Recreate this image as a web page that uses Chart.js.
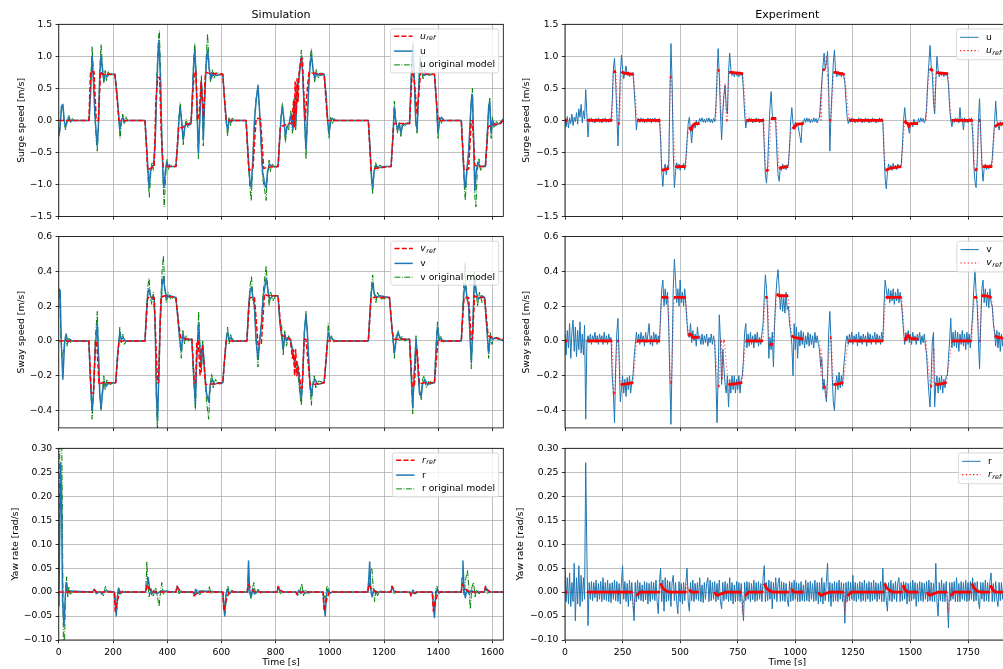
<!DOCTYPE html>
<html>
<head>
<meta charset="utf-8">
<script src="https://cdn.jsdelivr.net/npm/chart.js@4.4.1/dist/chart.umd.min.js"></script>
<style>
  html, body { margin: 0; padding: 0; background: #fff; width: 1003px; height: 669px; overflow: hidden; }
  canvas { position: absolute; left: 0; top: 0; }
</style>
</head>
<body>
<script>
// ---------- tick labels ----------
const simTimeTicks = [0, 200, 400, 600, 800, 1000, 1200, 1400, 1600];
const expTimeTicks = [0, 250, 500, 750, 1000, 1250, 1500, 1750];
const surgeTicks = [-1.5, -1.0, -0.5, 0, 0.5, 1.0, 1.5];
const swayTicks = [-0.4, -0.2, 0, 0.2, 0.4, 0.6];
const yawTicks = [-0.10, -0.05, 0, 0.05, 0.10, 0.15, 0.20, 0.25, 0.30];

// ---------- simulation: [time s, value] ----------
const uRefSim = [[0,0],[111,0],[117,.76],[130,.76],[138,0],[146,0],[154,.76],[160,.72],[207,.72],[222,0],[318,0],[328,-.78],[338,-.75],[352,-.72],[358,.3],[365,.67],[372,.67],[378,-.2],[385,-.72],[432,-.72],[442,-.1],[455,-.12],[470,-.06],[488,-.05],[491,.2],[500,.76],[506,.76],[512,0],[518,.1],[525,.6],[530,.3],[534,.05],[541,.75],[550,.74],[605,.72],[617,0],[691,0],[701,-.78],[716,-.76],[728,.03],[744,.03],[756,-.75],[770,-.73],[809,-.72],[817,-.1],[830,-.08],[845,-.05],[860,-.05],[866,.3],[869,-.1],[872,.6],[876,.1],[879,.65],[883,.3],[886,.7],[893,.95],[899,.97],[903,.5],[909,0],[915,.4],[923,.75],[935,.74],[979,.72],[991,0],[1142,0],[1152,-.78],[1165,-.75],[1226,-.72],[1236,-.05],[1260,-.05],[1294,-.05],[1304,.78],[1312,.6],[1322,.1],[1335,.75],[1345,.73],[1386,.72],[1399,0],[1485,0],[1495,-.78],[1512,-.76],[1522,0],[1526,0],[1535,-.7],[1545,-.72],[1574,-.72],[1584,-.1],[1600,-.07],[1630,-.05],[1640,0]];
const uSim = [[0,-.25],[4,-.15],[10,.22],[15,.25],[20,0],[25,-.1],[31,-.02],[37,.05],[44,-.02],[52,0],[112,0],[118,.5],[123,1.0],[128,.6],[133,.1],[138,-.2],[142,-.4],[147,0],[151,.7],[156,1.02],[161,.8],[166,.62],[172,.72],[178,.68],[186,.72],[207,.72],[215,.4],[222,.02],[225,-.15],[230,-.02],[236,.05],[243,-.02],[250,0],[318,0],[324,-.4],[330,-.85],[333,-1.05],[338,-.8],[344,-.72],[350,-.7],[356,-.3],[362,.6],[367,1.1],[370,1.25],[375,.6],[380,-.3],[385,-.9],[388,-1.05],[393,-.8],[398,-.65],[404,-.72],[432,-.72],[438,-.4],[444,.05],[448,.2],[453,0],[459,-.3],[465,-.1],[471,-.05],[478,-.08],[488,-.05],[493,.4],[498,.9],[502,1.1],[507,.6],[511,0],[515,-.5],[520,0],[526,.6],[530,.3],[533,-.3],[538,.3],[544,.9],[549,1.1],[555,.8],[562,.65],[570,.74],[580,.7],[605,.72],[612,.3],[619,-.05],[623,-.15],[629,.02],[636,-.02],[645,0],[691,0],[698,-.5],[705,-.95],[710,-1.05],[716,-.6],[722,0],[728,.3],[735,.55],[740,.2],[746,-.3],[752,-.8],[760,-1.0],[765,-1.05],[770,-.8],[777,-.68],[786,-.72],[809,-.72],[815,-.3],[820,.05],[825,.2],[830,.05],[836,-.25],[842,-.1],[850,-.05],[858,.1],[864,-.15],[870,.3],[874,-.1],[880,.5],[886,.65],[891,.85],[895,1.0],[900,.7],[906,.1],[912,-.45],[917,0],[923,.6],[928,.9],[932,1.02],[938,.8],[945,.65],[952,.74],[962,.7],[979,.72],[986,.4],[993,-.05],[997,-.2],[1003,0],[1010,.03],[1018,0],[1142,0],[1148,-.4],[1154,-.9],[1158,-1.05],[1163,-.8],[1170,-.7],[1180,-.74],[1200,-.72],[1226,-.72],[1232,-.3],[1238,.2],[1243,0],[1250,-.15],[1256,-.05],[1262,-.2],[1268,-.08],[1278,-.05],[1294,-.05],[1299,.5],[1304,1.0],[1307,1.15],[1312,.6],[1317,0],[1322,-.15],[1328,.5],[1333,.95],[1338,.8],[1345,.7],[1360,.72],[1386,.72],[1393,.3],[1399,-.2],[1405,0],[1412,.05],[1420,0],[1485,0],[1491,-.5],[1497,-1.0],[1500,-1.05],[1505,-.8],[1512,-.5],[1518,0],[1522,.3],[1526,.4],[1530,-.2],[1535,-1.1],[1540,-.8],[1546,-.65],[1555,-.72],[1574,-.72],[1580,-.3],[1586,.2],[1590,.3],[1595,-.2],[1600,0],[1610,-.08],[1625,-.05],[1640,.02]];
const uOrigSim = [[0,-.2],[5,-.1],[10,.2],[15,.24],[20,-.05],[25,-.15],[31,.02],[37,.08],[44,-.03],[50,.03],[58,0],[112,0],[118,.6],[123,1.15],[128,.7],[133,.1],[138,-.3],[142,-.48],[147,0],[151,.8],[156,1.18],[161,.85],[166,.58],[171,.78],[176,.62],[182,.76],[190,.7],[207,.72],[215,.4],[222,0],[226,-.28],[231,-.05],[236,.1],[241,-.05],[247,.06],[254,0],[318,0],[324,-.45],[330,-.95],[334,-1.2],[339,-.85],[344,-.65],[349,-.78],[356,-.3],[362,.7],[367,1.25],[371,1.4],[376,.7],[381,-.4],[385,-1.0],[389,-1.35],[394,-.9],[399,-.6],[404,-.78],[410,-.68],[420,-.72],[432,-.72],[438,-.4],[443,.05],[448,.28],[453,0],[459,-.38],[465,-.1],[470,.02],[476,-.12],[482,-.03],[488,-.05],[493,.45],[498,1.0],[502,1.2],[507,.7],[511,0],[515,-.6],[520,0],[526,.7],[530,.3],[533,-.4],[538,.3],[544,1.0],[549,1.35],[555,.8],[560,.6],[566,.8],[573,.65],[580,.75],[605,.72],[612,.3],[618,-.05],[623,-.25],[628,.05],[634,-.08],[640,.04],[648,0],[691,0],[698,-.55],[705,-1.05],[710,-1.25],[716,-.6],[722,0],[728,.35],[735,.52],[740,.2],[746,-.35],[752,-.9],[760,-1.1],[765,-1.25],[770,-.85],[776,-.62],[781,-.8],[788,-.68],[796,-.74],[809,-.72],[815,-.3],[820,.05],[825,.28],[830,.02],[836,-.35],[842,-.08],[848,-.15],[856,.15],[862,-.2],[868,.35],[874,-.15],[880,.55],[886,.7],[891,.9],[895,1.1],[900,.75],[906,.1],[912,-.6],[917,-.05],[923,.65],[928,1.0],[932,1.12],[938,.8],[944,.6],[950,.8],[958,.66],[966,.74],[979,.72],[986,.4],[992,-.05],[997,-.28],[1003,.05],[1009,-.06],[1016,.03],[1024,0],[1142,0],[1148,-.45],[1154,-.95],[1158,-1.15],[1163,-.8],[1169,-.65],[1175,-.78],[1183,-.7],[1200,-.72],[1226,-.72],[1232,-.3],[1238,.3],[1243,0],[1250,-.2],[1256,-.02],[1262,-.25],[1268,-.05],[1275,-.1],[1285,-.04],[1294,-.05],[1299,.55],[1304,1.1],[1307,1.22],[1312,.6],[1317,-.05],[1322,-.2],[1328,.55],[1333,1.0],[1338,.8],[1344,.65],[1350,.78],[1360,.7],[1386,.72],[1393,.3],[1399,-.28],[1405,.05],[1411,-.05],[1418,.03],[1425,0],[1485,0],[1491,-.55],[1497,-1.1],[1500,-1.25],[1505,-.85],[1512,-.5],[1518,0],[1522,.35],[1526,.5],[1530,-.2],[1535,-1.2],[1539,-1.35],[1544,-.8],[1550,-.6],[1556,-.78],[1565,-.7],[1574,-.72],[1580,-.3],[1586,.25],[1590,.35],[1595,-.28],[1600,.05],[1606,-.12],[1615,-.02],[1625,-.06],[1635,-.03],[1640,0]];

const vRefSim = [[0,0],[111,0],[120,-.3],[128,-.3],[136,0],[140,0],[148,-.25],[160,-.24],[210,-.24],[222,0],[318,0],[328,.25],[352,.25],[358,0],[364,-.24],[368,-.24],[377,.25],[390,.26],[432,.25],[442,.1],[450,.02],[470,.01],[491,.01],[500,-.24],[505,-.24],[509,0],[515,0],[521,-.2],[526,-.03],[531,-.03],[541,-.25],[555,-.25],[605,-.24],[617,0],[694,0],[704,.25],[722,.25],[735,-.02],[747,-.02],[759,.27],[770,.26],[809,.26],[821,.04],[835,.02],[855,.01],[862,-.1],[866,-.05],[870,-.2],[874,-.05],[878,-.2],[884,-.15],[893,-.27],[898,-.27],[905,.01],[912,.01],[927,-.25],[940,-.25],[979,-.24],[991,0],[1142,0],[1152,.25],[1220,.25],[1230,.05],[1238,.01],[1257,.01],[1294,.01],[1304,-.26],[1312,-.26],[1318,-.05],[1322,-.05],[1331,-.25],[1345,-.24],[1386,-.24],[1399,0],[1485,0],[1495,.25],[1512,.25],[1522,.01],[1526,.01],[1534,.26],[1545,.25],[1571,.25],[1584,.03],[1600,.02],[1640,.01]];
const vSim = [[0,.29],[5,.29],[9,0],[15,-.22],[21,-.02],[27,.04],[33,-.01],[40,.01],[48,0],[111,0],[116,-.2],[123,-.4],[128,-.3],[134,-.05],[142,.1],[147,-.1],[151,-.3],[156,-.39],[161,-.3],[167,-.23],[175,-.26],[185,-.24],[210,-.24],[216,-.1],[222,0],[225,.05],[230,.01],[237,.02],[245,0],[318,0],[324,.18],[329,.28],[333,.3],[338,.26],[345,.24],[352,.25],[356,.05],[360,-.3],[364,-.46],[369,-.2],[374,.1],[381,.32],[386,.37],[391,.3],[398,.25],[410,.26],[432,.25],[440,.12],[446,.01],[452,-.06],[458,.04],[464,.01],[475,.01],[491,.01],[496,-.15],[504,-.36],[509,-.1],[516,.1],[521,-.05],[526,-.15],[531,-.02],[537,-.15],[545,-.3],[553,-.35],[559,-.25],[566,-.22],[575,-.25],[590,-.24],[605,-.24],[612,-.1],[619,.02],[623,.05],[629,.01],[636,.02],[645,0],[694,0],[700,.18],[706,.29],[711,.31],[716,.25],[722,.2],[728,0],[735,-.1],[741,0],[748,.1],[754,.25],[759,.3],[765,.36],[771,.3],[778,.24],[790,.26],[809,.26],[816,.1],[822,.03],[828,-.05],[834,.04],[840,0],[848,.02],[856,0],[862,-.05],[868,-.1],[874,-.15],[880,-.12],[886,-.2],[891,-.3],[895,-.33],[900,-.2],[906,.05],[912,.15],[917,.05],[922,-.1],[927,-.25],[932,-.32],[937,-.25],[945,-.22],[955,-.25],[979,-.24],[987,-.1],[994,.05],[1000,.02],[1010,.01],[1020,0],[1142,0],[1148,.15],[1153,.28],[1158,.33],[1164,.27],[1172,.25],[1185,.26],[1220,.25],[1228,.1],[1234,0],[1238,-.07],[1245,.01],[1252,.05],[1258,.02],[1268,.01],[1294,.01],[1299,-.15],[1306,-.38],[1311,-.2],[1318,.01],[1323,-.1],[1330,-.28],[1337,-.32],[1342,-.25],[1350,-.22],[1360,-.25],[1386,-.24],[1392,-.05],[1397,.08],[1403,.02],[1410,.01],[1420,0],[1485,0],[1490,.15],[1495,.28],[1500,.33],[1506,.25],[1512,.2],[1518,0],[1522,-.12],[1527,.05],[1531,.25],[1534,.36],[1540,.28],[1548,.24],[1560,.26],[1571,.25],[1578,.1],[1586,-.07],[1592,.03],[1600,.01],[1615,.02],[1640,0]];
const vOrigSim = [[0,.27],[3,.3],[7,.05],[12,-.1],[18,-.05],[24,.03],[30,-.03],[36,.02],[44,-.01],[52,0],[111,0],[116,-.22],[123,-.45],[128,-.3],[134,0],[142,.17],[147,-.1],[151,-.3],[156,-.4],[161,-.28],[166,-.2],[171,-.28],[178,-.22],[188,-.25],[210,-.24],[216,-.1],[222,0],[225,.08],[230,-.01],[236,.04],[242,-.02],[250,0],[318,0],[324,.2],[329,.32],[333,.36],[338,.25],[343,.21],[349,.28],[356,.05],[360,-.35],[364,-.52],[369,-.2],[374,.15],[381,.4],[386,.49],[391,.3],[397,.22],[404,.28],[412,.24],[432,.25],[440,.12],[446,0],[452,-.1],[458,.06],[464,-.02],[470,.03],[478,0],[491,.01],[496,-.18],[504,-.4],[509,-.1],[516,.17],[521,-.05],[526,-.18],[531,0],[537,-.15],[545,-.35],[553,-.45],[559,-.25],[564,-.19],[570,-.27],[578,-.22],[590,-.25],[605,-.24],[612,-.1],[619,.02],[623,.08],[628,-.02],[634,.04],[640,-.01],[648,0],[694,0],[700,.2],[706,.32],[711,.37],[716,.25],[722,.18],[728,0],[735,-.15],[741,0],[748,.12],[754,.28],[759,.35],[765,.43],[771,.3],[776,.2],[782,.28],[790,.23],[800,.26],[809,.26],[816,.1],[822,.1],[828,-.08],[834,.06],[840,-.03],[848,.03],[856,-.02],[862,-.08],[868,-.12],[874,-.18],[880,-.14],[886,-.25],[891,-.33],[895,-.37],[900,-.2],[906,.05],[912,.17],[917,.05],[922,-.12],[927,-.28],[932,-.37],[937,-.25],[942,-.2],[948,-.27],[958,-.23],[979,-.24],[987,-.1],[994,.1],[1000,0],[1006,.03],[1014,-.01],[1022,0],[1142,0],[1148,.17],[1153,.3],[1158,.38],[1164,.27],[1170,.22],[1176,.28],[1186,.24],[1220,.25],[1228,.1],[1234,-.02],[1238,-.1],[1245,.03],[1252,.06],[1258,0],[1265,.03],[1275,0],[1294,.01],[1299,-.18],[1306,-.42],[1311,-.2],[1318,.03],[1323,-.1],[1330,-.3],[1337,-.34],[1342,-.22],[1348,-.2],[1356,-.27],[1366,-.23],[1386,-.24],[1392,-.02],[1397,.11],[1403,0],[1409,.03],[1416,-.01],[1425,0],[1485,0],[1490,.18],[1495,.35],[1499,.45],[1505,.25],[1512,.2],[1518,0],[1522,-.16],[1527,.05],[1531,.28],[1534,.4],[1540,.28],[1545,.2],[1552,.28],[1562,.22],[1571,.25],[1578,.1],[1586,-.1],[1592,.05],[1598,-.02],[1606,.02],[1620,.01],[1640,0]];

const rRefSim = [[0,0],[125,0],[130,.005],[140,0],[205,0],[208,-.04],[215,-.02],[225,0],[320,0],[324,.015],[335,.006],[350,0],[432,0],[436,.012],[445,.004],[455,0],[495,0],[499,-.008],[510,-.002],[520,0],[605,0],[609,-.04],[616,-.02],[628,0],[695,0],[699,.016],[710,.006],[725,0],[805,0],[809,.012],[818,.004],[830,0],[875,0],[879,-.005],[890,0],[975,0],[979,-.04],[986,-.02],[998,0],[1140,0],[1144,.016],[1155,.006],[1170,0],[1225,0],[1229,.012],[1238,.004],[1248,0],[1295,0],[1299,-.008],[1310,-.002],[1320,0],[1378,0],[1382,-.04],[1389,-.02],[1400,0],[1485,0],[1489,.016],[1500,.006],[1515,0],[1570,0],[1574,.012],[1583,.004],[1593,0],[1640,0]];
const rSim = [[0,-.03],[3,.1],[7,.27],[10,.2],[14,-.02],[19,-.07],[23,-.02],[27,.02],[32,0],[40,.002],[125,0],[131,.006],[138,-.003],[150,.001],[160,-.004],[170,.003],[205,0],[209,-.03],[212,-.05],[216,-.01],[221,.008],[228,-.002],[240,0],[320,0],[325,.01],[330,.03],[335,.008],[342,-.005],[350,.003],[362,-.004],[375,.002],[432,0],[437,.012],[443,.005],[450,0],[495,0],[500,-.006],[505,.006],[512,-.003],[520,.002],[605,0],[609,-.03],[612,-.05],[616,-.01],[621,.006],[628,-.004],[640,.002],[650,0],[695,0],[698,.03],[700,.065],[704,.005],[710,-.01],[716,.008],[722,-.004],[735,.002],[745,0],[805,0],[810,.01],[815,.004],[822,0],[875,0],[880,-.004],[885,.004],[893,-.003],[900,.003],[910,-.002],[920,0],[975,0],[979,-.03],[983,-.05],[987,-.01],[992,.006],[1000,-.002],[1010,0],[1140,0],[1144,.03],[1147,.063],[1151,.005],[1156,-.01],[1162,.006],[1170,-.002],[1180,0],[1225,0],[1230,.012],[1235,.004],[1242,0],[1295,0],[1300,-.006],[1306,.004],[1312,-.003],[1320,0],[1378,0],[1382,-.03],[1386,-.053],[1390,-.01],[1395,.006],[1402,-.002],[1412,0],[1485,0],[1488,.03],[1491,.065],[1495,.005],[1500,-.012],[1506,.006],[1514,-.004],[1522,.004],[1530,0],[1570,0],[1575,.01],[1581,.003],[1590,0],[1640,0]];
const rOrigSim = [[0,-.03],[2,.15],[4,.31],[11,.31],[14,.1],[17,-.11],[21,-.11],[25,0],[29,.032],[33,-.01],[37,.01],[42,-.005],[50,0],[125,0],[132,.005],[140,-.004],[150,.002],[165,-.008],[172,.012],[180,0],[205,0],[210,-.02],[215,-.035],[220,.01],[226,-.005],[232,.004],[240,0],[320,0],[323,.03],[325,.063],[328,.02],[333,-.01],[340,.008],[348,-.01],[357,.01],[364,-.01],[370,-.03],[375,0],[380,.02],[386,-.005],[395,.003],[405,0],[432,0],[438,.01],[444,-.004],[452,.003],[460,0],[495,0],[502,-.003],[510,.005],[520,-.006],[530,.003],[550,0],[555,.012],[562,-.004],[570,0],[605,0],[610,-.03],[614,-.045],[619,0],[624,.012],[630,-.005],[638,.004],[648,0],[695,0],[700,.04],[704,0],[709,-.015],[715,.01],[720,.02],[726,-.005],[735,.006],[745,-.003],[755,0],[805,0],[810,.008],[818,-.004],[830,0],[875,0],[882,-.008],[890,.002],[896,.018],[903,-.008],[910,.005],[920,-.003],[930,0],[975,0],[980,-.01],[984,-.02],[988,.01],[993,.012],[1000,-.004],[1010,.003],[1020,0],[1140,0],[1146,.01],[1150,.04],[1155,.05],[1160,.01],[1165,-.02],[1170,.005],[1176,-.008],[1185,.004],[1195,0],[1225,0],[1231,.01],[1238,-.003],[1245,0],[1295,0],[1301,-.004],[1308,.006],[1316,-.004],[1325,0],[1378,0],[1383,-.02],[1387,-.035],[1391,.01],[1396,.012],[1402,-.004],[1412,.002],[1420,0],[1485,0],[1490,.02],[1495,-.005],[1502,.03],[1508,.045],[1513,.01],[1518,-.035],[1524,.01],[1530,.02],[1536,-.01],[1542,.005],[1550,-.004],[1560,.002],[1570,0],[1576,.008],[1582,-.003],[1590,0],[1640,0]];

// ---------- experiment ----------
// measured signals, one sample every expStep seconds starting at t = 0 (ten samples per line)
const expStep = 5;
const uExp = [
  .03,-.1,.06,-.12,.04,-.05,.1,-.08,.05,-.02,
  .12,-.06,.18,.05,.25,-.04,.15,.02,.48,.1,
  -.26,.03,-.02,.04,-.03,.02,-.04,.03,-.02,.04,
  -.03,.02,-.04,.03,-.02,.04,-.03,.02,-.03,.03,
  -.02,.3,.8,.97,.6,.1,-.4,.1,.7,1.02,
  .8,.65,.75,.85,.7,.76,.68,.74,.7,.75,
  .5,.2,-.15,.02,.03,-.03,.04,-.02,.03,-.04,
  .02,-.03,.04,-.02,.03,-.04,.03,-.02,.04,-.03,
  .02,-.03,.03,-.3,-.8,-1.03,-.75,-.68,-.85,-.7,
  -.75,.3,1.2,.6,-.5,-1.05,-.8,-.66,-.76,-.68,
  -.78,-.7,-.74,-.67,-.77,-.6,-.3,-.05,.05,-.15,
  -.35,-.1,-.05,-.12,0,-.08,-.03,.03,-.02,.04,
  -.03,.02,-.04,.03,-.02,.04,-.03,.02,-.04,.03,
  -.02,.2,.7,1.12,.7,.1,-.3,.1,.4,.55,
  .2,.1,.75,1.05,.8,.7,.76,.68,.75,.7,
  .74,.68,.76,.7,.72,.45,.1,-.12,.02,-.03,
  .04,-.02,.03,-.04,.02,-.03,.04,-.02,.03,-.04,
  .02,-.03,.03,-.4,-.85,-.98,-.7,-.2,.2,.45,
  .1,.02,.05,-.05,-.5,-.85,-.95,-.72,-.78,-.68,
  -.76,-.7,-.77,-.69,-.7,-.4,0,.2,-.05,-.12,
  -.03,-.1,-.05,-.15,-.25,-.35,-.02,-.05,.03,-.03,
  .04,-.02,.03,-.04,.02,-.03,.04,-.02,.03,-.04,
  .02,.05,.3,.6,.85,1.05,.8,.9,1.08,.5,
  -.48,.1,.5,.9,1.1,.75,.68,.76,.7,.74,
  .68,.75,.7,.6,.3,.05,-.05,.03,-.03,.04,
  -.02,.03,-.04,.02,-.03,.04,-.02,.03,-.04,.02,
  -.03,.04,-.02,.03,-.04,.02,-.03,.04,-.02,.03,
  -.04,.02,-.03,.04,-.02,.03,-.04,-.5,-.9,-1.07,
  -.8,-.68,-.76,-.7,-.78,-.67,-.75,-.7,-.77,-.68,
  -.74,-.7,-.7,-.4,0,.2,0,-.05,-.1,-.2,
  -.05,-.03,-.1,.02,-.06,-.02,-.05,.03,-.03,.04,
  -.02,.03,-.04,.02,.2,.6,.9,1.17,.85,.7,
  .3,.1,.6,1.0,.8,.68,.76,.7,.74,.68,
  .75,.7,.72,.55,.2,0,-.1,.02,-.03,.04,
  -.02,.03,-.04,.2,-.02,.03,-.15,.04,-.03,.02,
  -.04,.03,-.02,.04,-.2,-.7,-.95,-1.05,-.6,0,
  .34,-.2,-.7,-.95,-.75,-.68,-.77,-.7,-.76,-.69,
  -.74,-.6,-.3,-.05,.3,0,-.08,-.15,-.02,-.09,
  -.03,-.1,-.04,-.08,-.02,-.07,-.05];
const vExp = [
  .04,-.08,.06,-.04,.1,-.1,.05,.12,-.06,.08,
  -.09,.06,-.05,.11,-.07,.04,-.08,.09,-.45,0,
  .03,-.01,.04,-.02,.03,0,.05,-.01,.03,-.02,
  .04,0,.03,-.02,.05,-.01,.03,-.02,.04,0,
  .02,-.2,-.3,-.47,-.15,.05,.13,-.1,-.35,-.28,
  -.2,-.3,-.22,-.32,-.21,-.28,-.2,-.3,-.24,-.2,
  -.1,-.02,.05,-.01,.04,-.02,.05,0,.03,-.03,
  .05,-.01,.04,.1,-.02,.03,-.03,.05,0,.04,
  -.02,.03,-.01,.15,.3,.35,.2,.3,.21,.28,
  .1,-.2,-.48,-.1,.3,.47,.35,.22,.3,.2,
  .35,.22,.28,.2,.3,.2,.1,.03,.02,.1,
  -.01,.06,0,.04,-.03,.08,.01,.03,-.02,.04,
  -.02,.03,-.01,.04,-.03,.02,-.01,.04,-.02,.03,
  -.01,-.2,-.47,-.2,.15,0,-.25,-.05,-.15,-.25,
  -.3,-.2,-.38,-.22,-.3,-.2,-.28,-.2,-.3,-.22,
  -.28,-.2,-.3,-.22,-.2,-.1,.05,.1,-.04,.04,
  -.03,.05,-.02,.03,-.04,.04,-.01,.05,-.03,.02,
  -.02,.04,.1,.25,.38,.3,.15,-.1,.02,-.05,
  .05,-.15,.1,.25,.35,.41,.3,.18,.27,.17,
  .25,.16,.28,.18,.2,.1,.05,-.02,-.2,.1,
  -.05,.08,-.1,.05,-.03,.06,-.02,.05,-.04,.03,
  -.02,.05,-.03,.04,-.02,.03,-.04,.05,-.01,.03,
  -.02,-.05,-.15,-.1,-.28,-.22,-.3,-.35,-.2,.05,
  .17,0,-.2,-.35,-.4,-.25,-.2,-.28,-.18,-.27,
  -.2,-.26,-.15,-.08,0,.03,-.02,.04,-.01,.05,
  -.02,.03,0,.04,-.03,.05,-.01,.03,-.02,.04,
  0,.03,-.03,.05,-.01,.04,-.02,.03,0,.05,
  -.02,.04,-.01,.03,-.02,.05,0,.2,.35,.3,
  .24,.3,.22,.29,.23,.3,.21,.28,.23,.3,
  .22,.28,.22,.15,.05,-.02,.05,0,.06,-.01,
  .04,-.02,.05,0,.03,-.02,.04,0,.05,-.02,
  .03,-.01,.04,-.03,-.08,-.2,-.3,-.38,-.2,0,
  .05,-.38,-.25,-.2,-.3,-.21,-.28,-.2,-.3,-.22,
  -.27,-.2,-.2,-.1,0,.13,-.04,.05,-.03,.06,
  -.04,.05,-.06,.04,-.02,.06,-.03,.04,-.05,.05,
  -.02,.04,-.04,.06,.15,.3,.41,.28,.2,0,
  -.16,.1,.3,.35,.22,.3,.2,.28,.19,.3,
  .22,.2,.1,.05,-.03,.06,-.04,.05,-.06,.04,
  -.03,.05,-.05,.04,-.02,.05,-.03];
const rExp = [
  .05,-.02,.03,-.025,.04,-.03,.02,-.02,.06,-.06,
  .03,-.025,.055,-.03,.035,-.02,.03,-.015,.27,.08,
  -.07,.02,-.015,.022,-.018,.02,-.012,.025,-.02,.018,
  -.015,.022,-.02,.03,-.016,.02,-.018,.025,-.02,.018,
  -.022,.02,-.015,.025,-.018,.022,-.02,.018,-.025,.02,
  .055,-.015,.022,-.02,.018,-.03,.025,-.018,.02,-.025,
  -.06,.02,-.02,.025,-.015,.02,-.018,.015,-.02,.022,
  -.016,.02,-.025,.018,-.02,.022,-.015,.02,-.018,.025,
  -.02,-.045,.02,.05,-.02,.025,-.04,.03,-.02,.025,
  -.018,.022,-.03,.02,.035,-.018,.02,-.02,-.045,.022,
  -.02,.018,-.025,.02,-.018,.022,.05,-.02,-.04,.02,
  -.018,.025,-.02,.018,-.015,.02,-.018,.03,-.02,.015,
  -.022,.02,-.015,.018,.03,-.02,.025,-.018,.02,-.015,
  .022,-.02,.018,-.016,.025,-.02,-.035,.02,-.018,.022,
  -.015,.018,-.02,.03,-.018,.02,-.025,.015,-.02,.022,
  -.018,.02,-.02,.018,-.025,-.06,.02,-.018,.022,-.015,
  .02,-.02,.018,-.016,.025,-.02,.02,-.018,.022,-.015,
  .018,-.02,.03,.055,-.02,.02,-.018,.025,-.015,.022,
  -.035,.02,-.015,.03,-.02,.018,.03,-.02,.022,-.018,
  .02,-.02,.018,-.015,-.03,.022,-.02,.02,-.018,.025,
  -.015,.02,-.02,.018,-.02,.022,-.018,.015,-.02,.025,
  -.018,.02,-.02,.022,-.015,.018,-.02,.025,-.018,.02,
  -.025,.02,-.02,.03,-.025,.02,-.018,.022,.06,-.02,
  .02,-.03,.018,-.02,.022,-.018,.02,-.02,.025,-.015,
  .02,-.02,.018,-.065,.02,-.02,.022,-.018,.02,-.015,
  .035,-.018,.02,-.02,.018,-.015,.022,-.02,.02,-.018,
  .025,-.02,.018,-.015,.022,-.02,.02,-.018,.025,-.015,
  .02,-.02,.018,-.015,.022,-.02,.05,-.02,.02,-.018,
  -.04,.02,-.018,.025,-.02,.018,-.015,.022,-.02,.02,
  .03,-.02,.02,-.018,.022,-.015,.02,-.025,.018,-.02,
  .02,-.018,.025,-.015,.02,-.03,.018,-.02,.022,-.018,
  .02,-.02,.018,-.015,.022,-.02,.025,-.018,.02,-.02,
  .018,-.02,.06,-.02,-.05,.02,-.018,.025,-.02,.018,
  -.02,.022,-.02,-.075,.02,-.018,.02,-.015,.022,-.02,
  .03,-.02,.018,-.02,.022,-.015,.02,-.018,.025,-.02,
  .02,-.018,.022,-.015,.03,-.02,.02,-.018,.022,-.02,
  -.035,.02,-.015,.02,-.02,.025,-.018,.02,-.02,.022,
  .04,-.02,.018,-.02,.022,-.015,-.03,.02,-.018,.02,
  -.015,.022,.04,-.02,.02,-.018,.02];

// reference commands during the run, [time s, value]; null marks a break in the log
const uRefExp = [[0,0],[10,0],[11,null],[95,0],[205,0],[210,.76],[221,.76],[231,-.05],[237,-.05],[245,.76],[255,.74],[298,.72],[313,0],[414,0],[420,-.78],[440,-.76],[451,-.75],[457,.68],[462,.68],[478,-.72],[524,-.72],[534,-.2],[541,-.1],[548,-.15],[555,-.08],[563,-.05],[585,-.05],[586,null],[655,0],[663,.78],[670,.78],[680,0],[688,.3],[695,.58],[701,0],[705,0],[712,.75],[722,.75],[773,.73],[787,0],[864,0],[871,-.78],[884,-.78],[894,.03],[917,.03],[929,-.75],[945,-.73],[969,-.72],[980,-.2],[987,-.1],[995,-.12],[1005,-.06],[1036,-.05],[1037,null],[1107,0],[1110,.4],[1113,0],[1116,.6],[1120,.78],[1128,.8],[1135,1.0],[1140,.7],[1149,0],[1155,0],[1166,.75],[1175,.75],[1214,.72],[1233,0],[1381,0],[1391,-.78],[1410,-.75],[1460,-.72],[1475,0],[1482,-.04],[1489,-.05],[1494,-.1],[1500,-.05],[1533,-.05],[1534,null],[1569,0],[1572,.4],[1583,.8],[1598,.78],[1605,.15],[1612,.75],[1625,.74],[1663,.73],[1677,0],[1771,0],[1779,-.78],[1790,-.76],[1797,0],[1803,0],[1812,-.72],[1855,-.72],[1866,-.1],[1880,-.06],[1930,-.04]];
const vRefExp = [[0,0],[10,0],[11,null],[95,0],[205,0],[210,-.3],[216,-.3],[227,0],[233,0],[241,-.25],[255,-.25],[296,-.24],[311,0],[412,0],[419,.25],[448,.25],[453,0],[458,-.24],[463,-.24],[473,.25],[490,.25],[524,.25],[535,.03],[545,.04],[555,.02],[581,.02],[582,null],[650,0],[655,-.1],[665,-.26],[670,-.26],[675,0],[679,0],[684,-.22],[688,0],[692,0],[709,-.25],[720,-.25],[769,-.24],[784,0],[860,0],[869,.25],[880,.25],[887,-.02],[904,-.02],[919,.27],[930,.26],[969,.26],[984,.03],[995,.02],[1035,.01],[1036,null],[1105,0],[1108,-.05],[1111,-.2],[1114,-.05],[1118,-.2],[1122,-.26],[1130,-.27],[1136,-.32],[1151,.02],[1156,.02],[1165,-.25],[1180,-.25],[1208,-.24],[1230,0],[1382,0],[1392,.25],[1462,.25],[1476,0],[1482,.02],[1490,.035],[1498,.015],[1534,.01],[1535,null],[1568,0],[1571,-.06],[1585,-.26],[1593,-.26],[1600,-.05],[1603,-.05],[1606,-.25],[1620,-.25],[1657,-.24],[1679,0],[1766,0],[1776,.25],[1790,.25],[1799,0],[1803,0],[1809,.26],[1825,.26],[1852,.25],[1866,.03],[1880,.02],[1930,.01]];
const rRefExp = [[0,0],[10,0],[11,null],[95,0],[294,0],[298,-.043],[303,-.02],[310,-.008],[325,0],[412,0],[415,.018],[425,.008],[440,.002],[455,0],[527,0],[530,.017],[538,.005],[550,0],[581,0],[582,null],[650,0],[655,-.004],[662,-.007],[675,-.004],[700,0],[766,0],[770,-.045],[775,-.02],[782,-.008],[797,0],[861,0],[865,.018],[875,.008],[890,.002],[905,0],[972,0],[975,.016],[983,.005],[995,0],[1035,0],[1036,null],[1100,0],[1105,-.004],[1112,-.007],[1125,-.004],[1150,0],[1211,0],[1215,-.045],[1220,-.02],[1227,-.008],[1242,0],[1384,0],[1388,.018],[1398,.008],[1413,.002],[1428,0],[1465,0],[1468,.015],[1476,.005],[1488,0],[1534,0],[1535,null],[1572,0],[1577,-.004],[1584,-.007],[1597,-.004],[1620,0],[1659,0],[1663,-.043],[1668,-.02],[1675,-.008],[1690,0],[1762,0],[1766,.018],[1776,.008],[1791,.002],[1806,0],[1845,0],[1848,.015],[1856,.005],[1868,0],[1930,0]];

// ---------- drawing ----------
Chart.defaults.font.family = "'DejaVu Sans', sans-serif";
Chart.defaults.color = '#000';

const CW = 1020, CH = 669;
const FS = 9.25;
const FONT = "'DejaVu Sans', sans-serif";
const BLUE = '#1f77b4', RED = '#ff0000', GREEN = '#008000';
const DASH = [5.1, 2.2], DASHDOT = [5.9, 1.5, 0.9, 1.5], DOT = [1.2, 2.4];

const COLS = [
  {L: 58.8, R: 503.3, xMax: 1640, xTicks: simTimeTicks},
  {L: 565, R: 1009.5, xMax: 1930, xTicks: expTimeTicks}
];
const ROWS = [
  {T: 24.3, B: 216.5, yMin: -1.5, yMax: 1.5, yTicks: surgeTicks, dec: 1, label: 'Surge speed [m/s]', labX: [21.7, 526.7]},
  {T: 236.6, B: 427.9, yMin: -0.5, yMax: 0.6, yTicks: swayTicks, dec: 1, label: 'Sway speed [m/s]', labX: [21.7, 526.7]},
  {T: 448.3, B: 640, yMin: -0.1, yMax: 0.3, yTicks: yawTicks, dec: 2, label: 'Yaw rate [rad/s]', labX: [15.3, 520.7]}
];

const pairs = a => a.map(p => ({x: p[0], y: p[1]}));
const sampled = a => a.map((v, i) => ({x: i * expStep, y: v}));

// The dotted reference trace only reads as solid where it is nearly flat, so the
// near-vertical steps go into their own faint dotted trace.
function splitReference(ref, col, row) {
  const kx = (col.R - col.L) / col.xMax;
  const ky = (row.B - row.T) / (row.yMax - row.yMin);
  const flat = [], steps = [];
  for (let i = 0; i < ref.length; i++) {
    const [t, v] = ref[i];
    flat.push({x: t, y: v});
    if (i + 1 >= ref.length) break;
    const [t2, v2] = ref[i + 1];
    if (v === null || v2 === null) continue;
    const dx = (t2 - t) * kx, dy = Math.abs(v2 - v) * ky;
    if (dy > 5 && dy > 2.2 * dx) {
      flat.push({x: (t + t2) / 2, y: null});
      steps.push({x: t, y: v}, {x: t2, y: v2}, {x: t2, y: null});
    }
  }
  return {flat, steps};
}

// each panel is a stack of layers, bottom first; each layer is its own canvas
function simLayers(ref, meas, orig) {
  return [
    [{data: pairs(orig), borderColor: GREEN, borderWidth: 1, borderDash: DASHDOT}],
    [{data: pairs(meas), borderColor: BLUE, borderWidth: 1.5}],
    [{data: pairs(ref), borderColor: RED, borderWidth: 1.5, borderDash: DASH}]
  ];
}
function expLayers(meas, ref, col, row) {
  const parts = splitReference(ref, col, row);
  return [
    [{data: sampled(meas), borderColor: BLUE, borderWidth: 1}],
    [{data: parts.steps, borderColor: 'rgba(255,0,0,0.6)', borderWidth: 1.2, borderDash: DOT},
     {data: parts.flat, borderColor: RED, borderWidth: 2.8}]
  ];
}
function simLegend(sym) {
  return [
    {dash: DASH, color: RED, w: 1.5, main: sym, sub: 'ref'},
    {dash: [], color: BLUE, w: 1.5, main: sym, plain: true},
    {dash: DASHDOT, color: GREEN, w: 1, main: sym + ' original model', plain: true}
  ];
}
function expLegend(sym) {
  return [
    {dash: [], color: BLUE, w: 1, main: sym, plain: true},
    {dash: DOT, color: RED, w: 1.2, main: sym, sub: 'ref'}
  ];
}

const panels = [
  {c: 0, r: 0, title: 'Simulation', layers: simLayers(uRefSim, uSim, uOrigSim), legend: simLegend('u')},
  {c: 1, r: 0, title: 'Experiment', layers: expLayers(uExp, uRefExp, COLS[1], ROWS[0]), legend: expLegend('u')},
  {c: 0, r: 1, layers: simLayers(vRefSim, vSim, vOrigSim), legend: simLegend('v')},
  {c: 1, r: 1, layers: expLayers(vExp, vRefExp, COLS[1], ROWS[1]), legend: expLegend('v')},
  {c: 0, r: 2, layers: simLayers(rRefSim, rSim, rOrigSim), legend: simLegend('r')},
  {c: 1, r: 2, layers: expLayers(rExp, rRefExp, COLS[1], ROWS[2]), legend: expLegend('r')}
];

function labelWidth(ctx, it) {
  if (it.plain) { ctx.font = FS + 'px ' + FONT; return ctx.measureText(it.main).width; }
  ctx.font = 'italic ' + FS + 'px ' + FONT;
  const a = ctx.measureText(it.main).width;
  ctx.font = 'italic ' + (FS * 0.7) + 'px ' + FONT;
  return a + ctx.measureText(it.sub).width + 0.5;
}
function drawLabel(ctx, it, x, y) {
  ctx.fillStyle = '#000';
  ctx.textAlign = 'left';
  ctx.textBaseline = 'middle';
  if (it.plain) { ctx.font = FS + 'px ' + FONT; ctx.fillText(it.main, x, y); return; }
  ctx.font = 'italic ' + FS + 'px ' + FONT;
  ctx.fillText(it.main, x, y);
  const w = ctx.measureText(it.main).width;
  ctx.font = 'italic ' + (FS * 0.7) + 'px ' + FONT;
  ctx.fillText(it.sub, x + w + 0.5, y + 2.4);
}
function drawLegend(ctx, items, R, T) {
  const pad = 3.7, hl = 18.4, tp = 7.4;
  const tw = Math.max(...items.map(it => labelWidth(ctx, it)));
  const w = pad + hl + tp + tw + pad;
  const rows = items.length === 3 ? [7.4, 22.2, 36] : [8.4, 21.8];
  const h = items.length === 3 ? 44 : 30.8;
  const x0 = R - 4.6 - w, y0 = T + 4.6;
  ctx.save();
  ctx.beginPath();
  ctx.roundRect(x0, y0, w, h, 2.5);
  ctx.fillStyle = 'rgba(255,255,255,0.8)';
  ctx.fill();
  ctx.lineWidth = 0.9;
  ctx.strokeStyle = 'rgba(204,204,204,0.8)';
  ctx.stroke();
  items.forEach((it, k) => {
    const y = y0 + rows[k];
    ctx.beginPath();
    ctx.setLineDash(it.dash);
    ctx.lineWidth = it.w;
    ctx.strokeStyle = it.color;
    ctx.moveTo(x0 + pad, y);
    ctx.lineTo(x0 + pad + hl, y);
    ctx.stroke();
    ctx.setLineDash([]);
    drawLabel(ctx, it, x0 + pad + hl + tp, y);
  });
  ctx.restore();
}

function decorate(chart, p, col, row) {
  const ctx = chart.ctx;
  ctx.save();
  ctx.setLineDash([]);
  ctx.strokeStyle = '#000';
  ctx.lineWidth = 0.8;
  ctx.strokeRect(col.L, row.T, col.R - col.L, row.B - row.T);
  ctx.fillStyle = '#000';
  ctx.textAlign = 'center';
  ctx.textBaseline = 'middle';
  if (p.title) {
    ctx.font = '11.1px ' + FONT;
    ctx.fillText(p.title, (col.L + col.R) / 2, 15.2);
  }
  if (p.r === 2) {
    ctx.font = FS + 'px ' + FONT;
    ctx.fillText('Time [s]', (col.L + col.R) / 2, 662.8);
  }
  ctx.save();
  ctx.translate(row.labX[p.c], (row.T + row.B) / 2);
  ctx.rotate(-Math.PI / 2);
  ctx.font = FS + 'px ' + FONT;
  ctx.fillText(row.label, 0, 0);
  ctx.restore();
  ctx.restore();
  drawLegend(ctx, p.legend, col.R, row.T);
}

function buildLayer(p, datasets, isBase, isTop) {
  const col = COLS[p.c], row = ROWS[p.r];
  const canvas = document.createElement('canvas');
  canvas.width = CW;
  canvas.height = CH;
  document.body.appendChild(canvas);
  const grid = isBase
    ? {color: '#b0b0b0', lineWidth: 0.8, drawTicks: true, tickLength: 3.2, tickColor: '#000', tickWidth: 0.8}
    : {display: false};
  new Chart(canvas, {
    type: 'line',
    data: {
      datasets: datasets.map(d => Object.assign({pointRadius: 0, pointHoverRadius: 0, fill: false, tension: 0, spanGaps: false, borderJoinStyle: 'round'}, d))
    },
    options: {
      responsive: false,
      animation: false,
      devicePixelRatio: 1,
      events: [],
      layout: {padding: {left: 0, top: row.T, right: CW - col.R, bottom: 0}},
      plugins: {legend: {display: false}, tooltip: {enabled: false}},
      scales: {
        x: {
          type: 'linear', min: 0, max: col.xMax,
          afterBuildTicks: s => { s.ticks = col.xTicks.map(v => ({value: v})); },
          afterFit: s => { s.height = CH - row.B; },
          grid: grid,
          border: {display: false},
          ticks: {display: isBase && p.r === 2, font: {size: FS}, color: '#000', padding: 3.4, autoSkip: false, maxRotation: 0, minRotation: 0, callback: v => String(v)}
        },
        y: {
          type: 'linear', min: row.yMin, max: row.yMax,
          afterBuildTicks: s => { s.ticks = row.yTicks.map(v => ({value: v})); },
          afterFit: s => { s.width = col.L; },
          grid: grid,
          border: {display: false},
          ticks: {display: isBase, font: {size: FS}, color: '#000', padding: 3.4, autoSkip: false, callback: v => v.toFixed(row.dec).replace('-', '\u2212')}
        }
      }
    },
    plugins: isTop ? [{id: 'deco', afterDraw: c => decorate(c, p, col, row)}] : []
  });
}

panels.forEach(p => {
  p.layers.forEach((sets, k) => buildLayer(p, sets, k === 0, k === p.layers.length - 1));
});
</script>
</body>
</html>
